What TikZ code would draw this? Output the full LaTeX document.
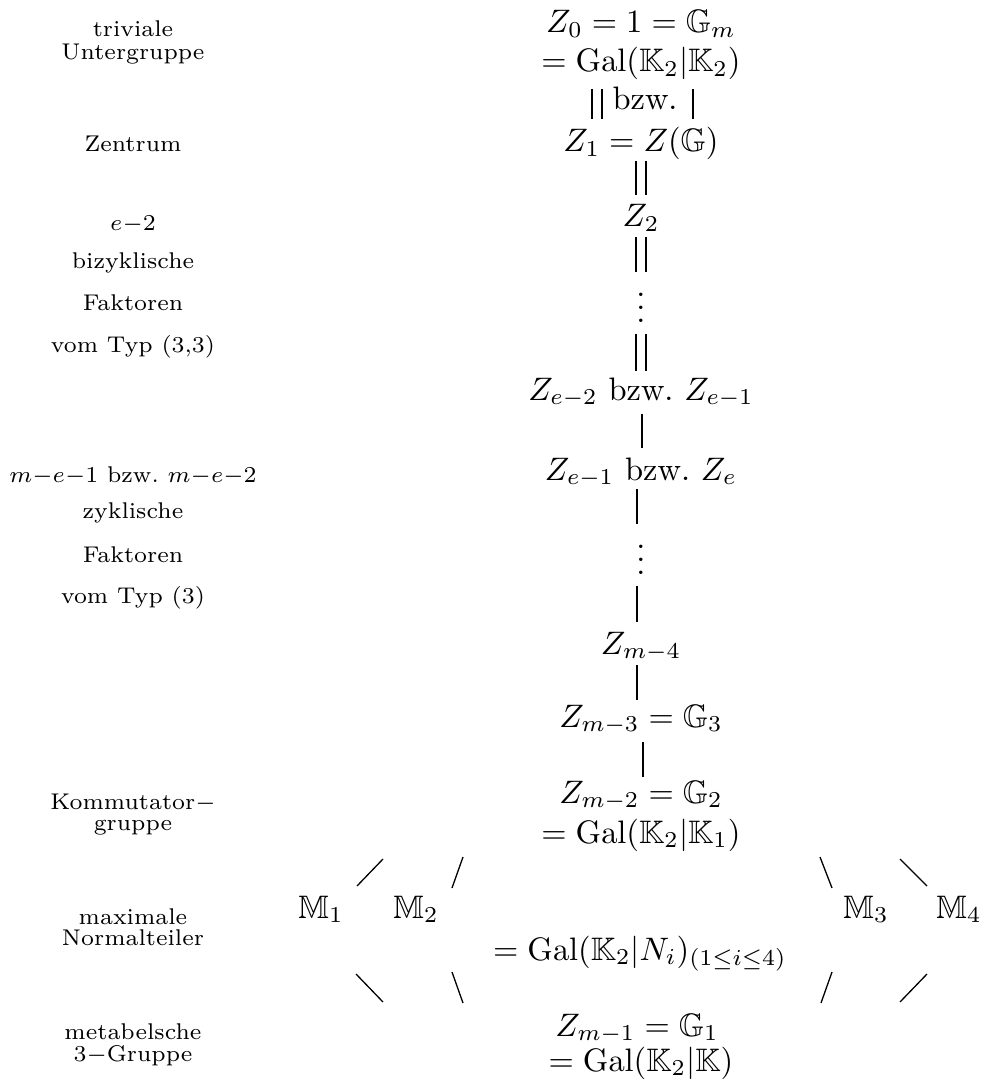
\documentclass[tikz,border=0pt]{standalone}
\usepackage{amssymb}
\usetikzlibrary{calc}
\begin{document}
\begin{tikzpicture}[x=0.30769pt,y=-0.30769pt,
  every node/.style={inner sep=0pt,anchor=base},
  lab/.style={font=\scriptsize},
  bar/.style={line width=0.4pt}]
\useasboundingbox (0,0) rectangle (982,1079);
% left labels
\node[lab] (l1a) at (133,37) {triviale};
\node[lab] (l1b) at (133,60) {Untergruppe};
\node[lab] (l2) at (133,152) {Zentrum};
\node[lab] (l3a) at (133,230) {$e{-}2$};
\node[lab] (l3b) at (133,268) {bizyklische};
\node[lab] (l3c) at (133,310) {Faktoren};
\node[lab] (l3d) at (133,352) {vom Typ (3,3)};
\node[lab] (l4a) at (133,482) {$m{-}e{-}1$ bzw.\ $m{-}e{-}2$};
\node[lab] (l4b) at (133,518) {zyklische};
\node[lab] (l4c) at (133,562) {Faktoren};
\node[lab] (l4d) at (133,603) {vom Typ (3)};
\node[lab] (l5a) at (133,809) {Kommutator$-$};
\node[lab] (l5b) at (133,830) {gruppe};
\node[lab] (l6a) at (133,924) {maximale};
\node[lab] (l6b) at (133,945) {Normalteiler};
\node[lab] (l7a) at (133,1039) {metabelsche};
\node[lab] (l7b) at (133,1061) {3$-$Gruppe};
% right column
\node (Z0) at (641,33) {$Z_0 = 1 = \mathbb{G}_m$};
\node (G0) at (641,72) {$= \mathrm{Gal}(\mathbb{K}_2|\mathbb{K}_2)$};
\node (bz) at (645,110) {bzw.};
\node (Z1) at (641,152) {$Z_1 = Z(\mathbb{G})$};
\node (Z2) at (641,227) {$Z_2$};
\node (D1) at (641,322) {$\vdots$};
\node (Ze2) at (641,400) {$Z_{e-2}$ bzw.\ $Z_{e-1}$};
\node (Ze1) at (641,480) {$Z_{e-1}$ bzw.\ $Z_e$};
\node (D2) at (641,574) {$\vdots$};
\node (Zm4) at (641,654) {$Z_{m-4}$};
\node (Zm3) at (641,727) {$Z_{m-3} = \mathbb{G}_3$};
\node (Zm2) at (641,803) {$Z_{m-2} = \mathbb{G}_2$};
\node (G2) at (641,843) {$= \mathrm{Gal}(\mathbb{K}_2|\mathbb{K}_1)$};
\node (M1) at (321,918) {$\mathbb{M}_1$};
\node (M2) at (416,918) {$\mathbb{M}_2$};
\node (M3) at (866,918) {$\mathbb{M}_3$};
\node (M4) at (959,918) {$\mathbb{M}_4$};
\node (GN) at (640,960) {$= \mathrm{Gal}(\mathbb{K}_2|N_i)_{(1\leq i\leq 4)}$};
\node (Zm1) at (637,1036) {$Z_{m-1} = \mathbb{G}_1$};
\node (G1) at (641,1071) {$= \mathrm{Gal}(\mathbb{K}_2|\mathbb{K})$};
% vertical connectors
\begin{scope}[bar]
\draw[shorten <=2.46pt, shorten >=2.46pt] ([shift={(-49,0)}]G0.south) -- ([shift={(-49,0)}]Z1.north);
\draw[shorten <=2.46pt, shorten >=2.46pt] ([shift={(-39,0)}]G0.south) -- ([shift={(-39,0)}]Z1.north);
\draw[shorten <=2.46pt, shorten >=2.46pt] ([shift={(52,0)}]G0.south) -- ([shift={(52,0)}]Z1.north);
\draw[shorten >=2.77pt] ([shift={(-5,0)}]Z1.south) -- ([shift={(-5,0)}]Z2.north);
\draw[shorten >=2.77pt] ([shift={(5,0)}]Z1.south) -- ([shift={(5,0)}]Z2.north);
\draw[shorten <=1.23pt] ([shift={(-5,0)}]Z2.south) -- ([shift={(-5,0)}]D1.north);
\draw[shorten <=1.23pt] ([shift={(5,0)}]Z2.south) -- ([shift={(5,0)}]D1.north);
\draw[shorten <=3.38pt, shorten >=1.85pt] ([shift={(-5,0)}]D1.south) -- ([shift={(-5,0)}]Ze2.north);
\draw[shorten <=3.38pt, shorten >=1.85pt] ([shift={(5,0)}]D1.south) -- ([shift={(5,0)}]Ze2.north);
\draw[shorten <=1.7pt, shorten >=2.77pt] ([shift={(1,0)}]Ze2.south) -- ([shift={(1,0)}]Ze1.north);
\draw[shorten <=0.3pt] ([shift={(-4,0)}]Ze1.south) -- ([shift={(-4,0)}]D2.north);
\draw[shorten <=3.38pt, shorten >=2.77pt] ([shift={(-4,0)}]D2.south) -- ([shift={(-4,0)}]Zm4.north);
\draw[shorten <=0.92pt, shorten >=1.23pt] ([shift={(-4,0)}]Zm4.south) -- ([shift={(-4,0)}]Zm3.north);
\draw[shorten <=2.15pt, shorten >=0.92pt] ([shift={(2,0)}]Zm3.south) -- ([shift={(2,0)}]Zm2.north);
% slashes around the maximal normal subgroups
\draw ($(M1.base)+(36,-32)$) -- ++(26,-27);
\draw ($(M2.base)+(36,-30)$) -- ++(11,-31);
\draw ($(M3.base)+(-34,-30)$) -- ++(-12,-31);
\draw ($(M4.base)+(-32,-32)$) -- ++(-27,-27);
\draw ($(M1.base)+(35,56)$) -- ++(27,28);
\draw ($(M2.base)+(36,54)$) -- ++(11,31);
\draw ($(M3.base)+(-34,54)$) -- ++(-11,31);
\draw ($(M4.base)+(-32,56)$) -- ++(-27,28);
\end{scope}
\end{tikzpicture}
\end{document}
